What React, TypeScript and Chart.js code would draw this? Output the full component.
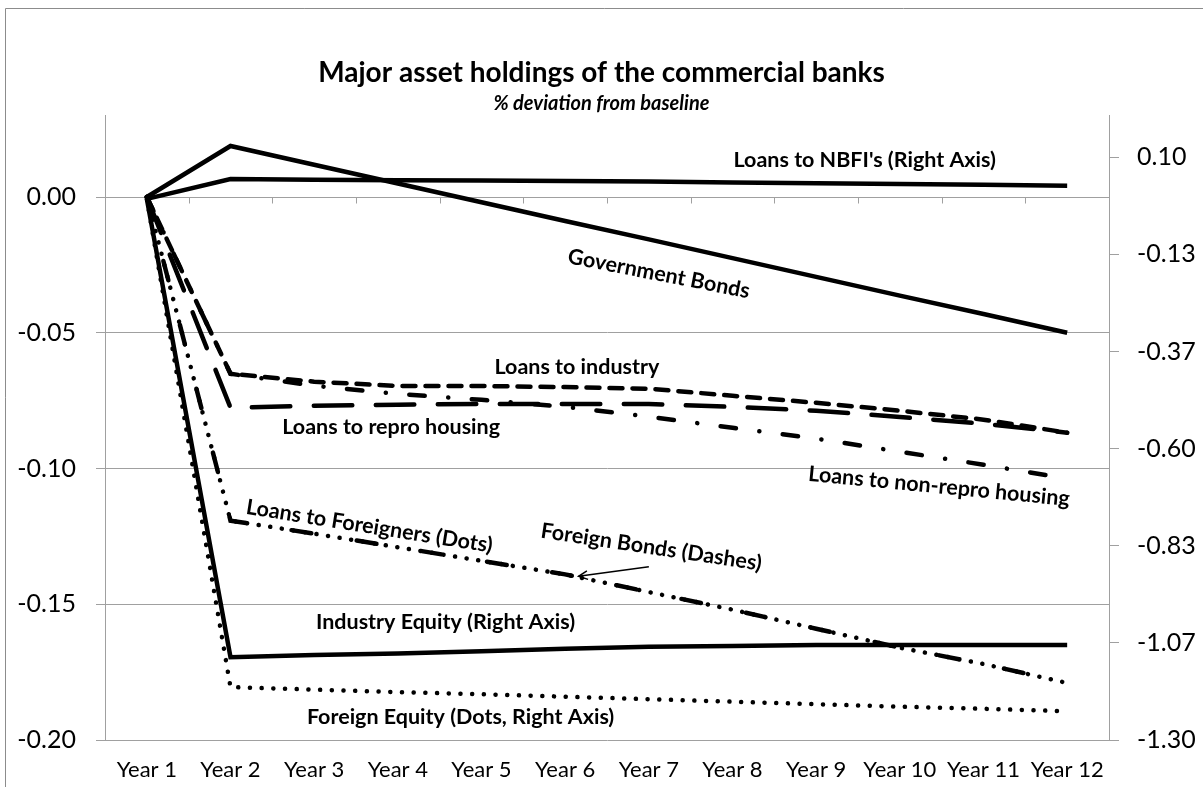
import React, { useEffect, useRef } from "react";
import { Chart, registerables } from "chart.js";

Chart.register(...registerables);

const FONT = "Lato, 'Open Sans', 'DejaVu Sans', sans-serif";

const years = ["Year 1", "Year 2", "Year 3", "Year 4", "Year 5", "Year 6", "Year 7", "Year 8", "Year 9", "Year 10", "Year 11", "Year 12"];

const leftTicks = [0, -0.05, -0.1, -0.15, -0.2];
const rightTicks = [0.1, -0.1333, -0.3667, -0.6, -0.8333, -1.0667, -1.3];

// left axis series
const governmentBonds = [0, 0.0188, 0.0119, 0.005, -0.0019, -0.0088, -0.0156, -0.0225, -0.0294, -0.0363, -0.0431, -0.05];
const loansToIndustry = [0, -0.0651, -0.068, -0.0696, -0.0696, -0.07, -0.0706, -0.0732, -0.0758, -0.0787, -0.082, -0.0868];
const loansToReproHousing = [0, -0.0776, -0.0769, -0.0765, -0.0762, -0.0762, -0.0762, -0.0773, -0.0787, -0.081, -0.0835, -0.0868];
const loansToNonReproHousing = [0, -0.0651, -0.0695, -0.0725, -0.0747, -0.0773, -0.0809, -0.085, -0.089, -0.0938, -0.0986, -0.1037];
const loansToForeigners = [0, -0.1192, -0.124, -0.129, -0.134, -0.139, -0.1455, -0.152, -0.159, -0.166, -0.172, -0.179];
const foreignBonds = [0, -0.1192, -0.124, -0.129, -0.134, -0.139, -0.1455, -0.152, -0.159, -0.166, -0.172, -0.179];

// right axis series
const loansToNBFI = [0, 0.0474, 0.046, 0.0448, 0.0439, 0.0431, 0.0415, 0.0395, 0.0376, 0.0357, 0.0338, 0.0316];
const industryEquity = [0, -1.101, -1.096, -1.092, -1.087, -1.081, -1.076, -1.074, -1.072, -1.072, -1.072, -1.072];
const foreignEquity = [0, -1.173, -1.179, -1.185, -1.19, -1.196, -1.202, -1.208, -1.214, -1.22, -1.225, -1.231];

// in-chart labels: category position (index), left-axis value, rotation in degrees
const annotations = [
  { text: "Loans to NBFI's (Right Axis)", at: 8.58, value: 0.0136, angle: 0 },
  { text: "Government Bonds", at: 6.12, value: -0.0283, angle: 11 },
  { text: "Loans to industry", at: 5.14, value: -0.0625, angle: 0 },
  { text: "Loans to repro housing", at: 2.92, value: -0.0849, angle: 0 },
  { text: "Loans to non-repro housing", at: 9.47, value: -0.1066, angle: 5.5 },
  { text: "Loans to Foreigners (Dots)", at: 2.66, value: -0.1213, angle: 9 },
  { text: "Foreign Bonds (Dashes)", at: 6.03, value: -0.129, angle: 8.5 },
  { text: "Industry Equity (Right Axis)", at: 3.57, value: -0.1566, angle: 0 },
  { text: "Foreign Equity (Dots, Right Axis)", at: 3.75, value: -0.1915, angle: 0 },
];

const arrow = { fromAt: 6.0, fromValue: -0.1362, toAt: 5.16, toValue: -0.1397 };

const decorPlugin = {
  id: "decor",
  beforeDraw(chart: any) {
    const ctx = chart.ctx;
    ctx.save();
    ctx.strokeStyle = "#8c8c8c";
    ctx.lineWidth = 1;
    ctx.beginPath();
    ctx.moveTo(5.5, chart.height);
    ctx.lineTo(5.5, 8.5);
    ctx.lineTo(chart.width, 8.5);
    ctx.stroke();
    ctx.restore();
  },
  beforeDatasetsDraw(chart: any) {
    const x = chart.scales.x;
    const y = chart.scales.y;
    const ctx = chart.ctx;
    const y0 = Math.round(y.getPixelForValue(0)) + 0.5;
    ctx.save();
    ctx.strokeStyle = "#a0a0a0";
    ctx.lineWidth = 1;
    for (let i = 1; i < years.length; i++) {
      const bx = Math.round((x.getPixelForValue(i - 1) + x.getPixelForValue(i)) / 2) + 0.5;
      ctx.beginPath();
      ctx.moveTo(bx, y0);
      ctx.lineTo(bx, y0 + 6);
      ctx.stroke();
    }
    ctx.restore();
  },
  afterDatasetsDraw(chart: any) {
    const x = chart.scales.x;
    const y = chart.scales.y;
    const ctx = chart.ctx;
    ctx.save();
    ctx.fillStyle = "#000";
    ctx.font = `bold 21.5px ${FONT}`;
    ctx.textAlign = "center";
    ctx.textBaseline = "middle";
    for (const a of annotations) {
      ctx.save();
      ctx.translate(x.getPixelForValue(a.at), y.getPixelForValue(a.value));
      ctx.rotate((a.angle * Math.PI) / 180);
      ctx.fillText(a.text, 0, 0);
      ctx.restore();
    }
    const x1 = x.getPixelForValue(arrow.fromAt);
    const y1 = y.getPixelForValue(arrow.fromValue);
    const x2 = x.getPixelForValue(arrow.toAt);
    const y2 = y.getPixelForValue(arrow.toValue);
    ctx.strokeStyle = "#000";
    ctx.lineWidth = 1.5;
    ctx.beginPath();
    ctx.moveTo(x1, y1);
    ctx.lineTo(x2, y2);
    ctx.stroke();
    const ang = Math.atan2(y1 - y2, x1 - x2);
    const len = 10;
    ctx.beginPath();
    ctx.moveTo(x2 + len * Math.cos(ang + 0.45), y2 + len * Math.sin(ang + 0.45));
    ctx.lineTo(x2, y2);
    ctx.lineTo(x2 + len * Math.cos(ang - 0.45), y2 + len * Math.sin(ang - 0.45));
    ctx.stroke();
    ctx.restore();
  },
};

export default function App() {
  const ref = useRef<HTMLCanvasElement | null>(null);

  useEffect(() => {
    if (!ref.current) return;
    const base = {
      borderColor: "#000",
      backgroundColor: "#000",
      borderWidth: 4.5,
      pointRadius: 0,
      pointHoverRadius: 0,
      fill: false,
      tension: 0,
    };
    const chart = new Chart(ref.current, {
      type: "line",
      data: {
        labels: years,
        datasets: [
          { label: "Government Bonds", data: governmentBonds, yAxisID: "y", ...base },
          { label: "Loans to NBFI's", data: loansToNBFI, yAxisID: "y1", ...base },
          { label: "Industry Equity", data: industryEquity, yAxisID: "y1", ...base },
          { label: "Foreign Equity", data: foreignEquity, yAxisID: "y1", ...base, borderDash: [0.1, 11.6], borderCapStyle: "round" },
          { label: "Loans to industry", data: loansToIndustry, yAxisID: "y", ...base, borderDash: [13, 10], borderCapStyle: "round" },
          { label: "Loans to repro housing", data: loansToReproHousing, yAxisID: "y", ...base, borderDash: [38.5, 23.5], borderCapStyle: "round" },
          { label: "Loans to non-repro housing", data: loansToNonReproHousing, yAxisID: "y", ...base, borderDash: [15.5, 23.5, 0.1, 23.5], borderCapStyle: "round" },
          { label: "Loans to Foreigners", data: loansToForeigners, yAxisID: "y", ...base, borderDash: [0.1, 11.6], borderCapStyle: "round" },
          { label: "Foreign Bonds", data: foreignBonds, yAxisID: "y", ...base, borderDash: [20, 46], borderCapStyle: "round" },
        ] as any,
      },
      options: {
        responsive: false,
        devicePixelRatio: 1,
        animation: false,
        layout: { padding: 0 },
        plugins: {
          legend: { display: false },
          tooltip: { enabled: false },
          title: {
            display: true,
            text: "Major asset holdings of the commercial banks",
            color: "#000",
            font: { family: FONT, size: 28, weight: "bold" },
            padding: { top: 56, bottom: 0 },
          },
          subtitle: {
            display: true,
            text: "% deviation from baseline",
            color: "#000",
            font: { family: FONT, size: 20, weight: "bold", style: "italic" },
            padding: { top: 2, bottom: 0 },
          },
        },
        scales: {
          x: {
            offset: true,
            grid: { display: false, drawTicks: false },
            border: { display: false },
            ticks: { font: { family: FONT, size: 22 }, color: "#000", padding: 17, maxRotation: 0, autoSkip: false },
            afterFit: (s: any) => { s.height = 47; },
          },
          y: {
            type: "linear",
            position: "left",
            min: -0.2,
            max: 0.03,
            afterBuildTicks: (s: any) => { s.ticks = leftTicks.map((v) => ({ value: v })); },
            afterFit: (s: any) => { s.width = 105; },
            grid: { color: "#a0a0a0", tickColor: "#a0a0a0", tickLength: 9, drawTicks: true },
            border: { color: "#a0a0a0" },
            ticks: { font: { family: FONT, size: 25 }, color: "#000", padding: 20, callback: (v: any) => Number(v).toFixed(2) },
          },
          y1: {
            type: "linear",
            position: "right",
            min: -1.3,
            max: 0.2,
            afterBuildTicks: (s: any) => { s.ticks = rightTicks.map((v) => ({ value: v })); },
            afterFit: (s: any) => { s.width = 94; },
            grid: { drawOnChartArea: false, color: "#a0a0a0", tickColor: "#a0a0a0", tickLength: 10, drawTicks: true },
            border: { color: "#a0a0a0" },
            ticks: { font: { family: FONT, size: 25 }, color: "#000", padding: 18, callback: (v: any) => Number(v).toFixed(2) },
          },
        },
      } as any,
      plugins: [decorPlugin],
    });
    return () => chart.destroy();
  }, []);

  return (
    <div style={{ position: "fixed", left: 0, top: 0, width: 1203, height: 787, background: "#fff", overflow: "hidden" }}>
      <canvas ref={ref} width={1203} height={787} style={{ display: "block" }} />
    </div>
  );
}
